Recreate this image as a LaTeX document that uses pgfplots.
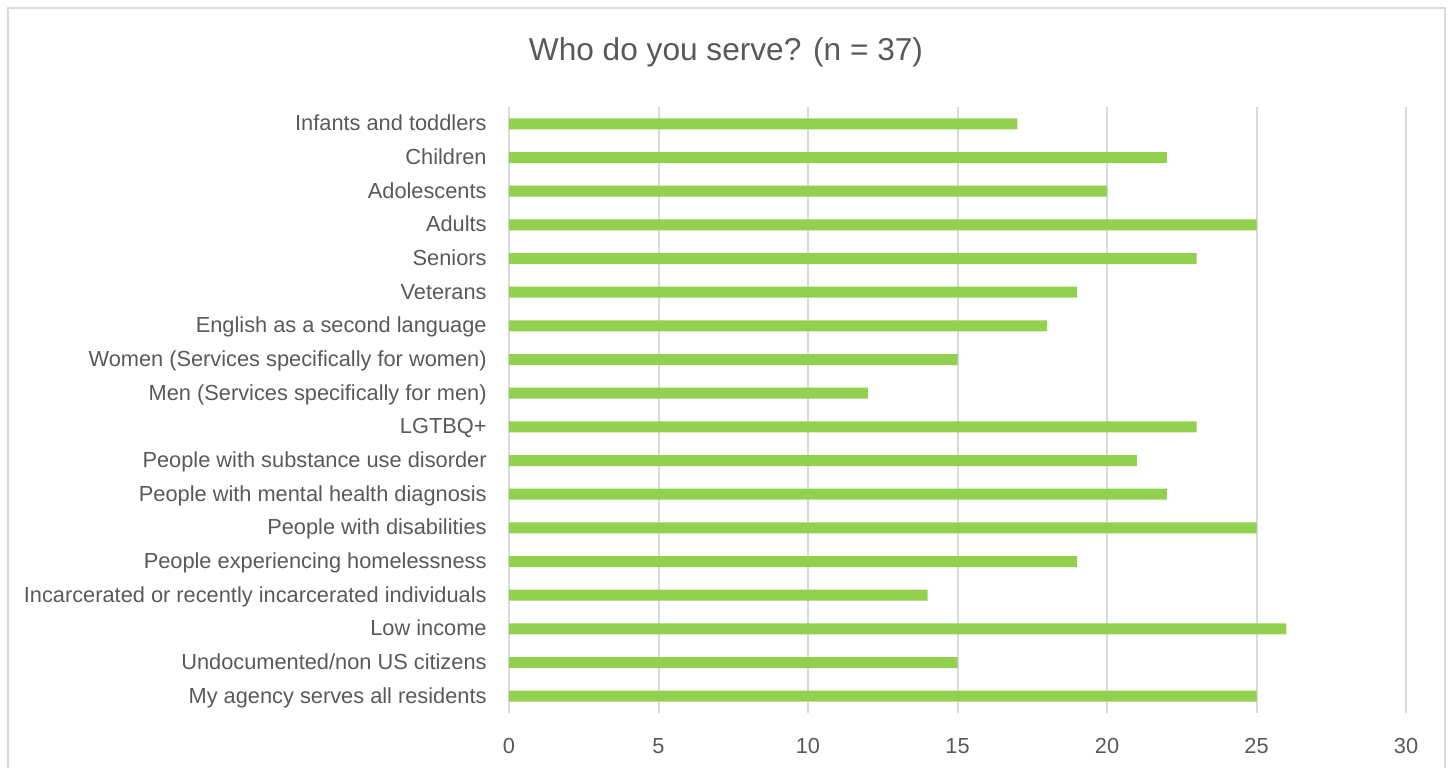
\documentclass[border=0pt]{standalone}
\usepackage{fontspec}
\setmainfont{Liberation Sans}
\usepackage{pgfplots}
\pgfplotsset{compat=1.18}
\definecolor{bargreen}{HTML}{92D050}
\definecolor{txt}{HTML}{595959}
\definecolor{gridc}{HTML}{D9D9D9}
\begin{document}
\begin{tikzpicture}
\path[use as bounding box] (0,0) rectangle (14.5cm,7.67cm);
\draw[gridc, line width=0.25mm] (0.08cm,-0.2cm) -- (0.08cm,7.59cm) -- (14.45cm,7.59cm) -- (14.45cm,-0.2cm);
\node[txt, font=\fontsize{9}{11}\selectfont] at (7.26cm,7.15cm) {Who do you serve? (n = 37)};
\begin{axis}[
  at={(5.09cm,0.54cm)}, anchor=south west,
  scale only axis, width=8.97cm, height=6.06cm,
  xbar, bar width=0.11cm,
  xmin=0, xmax=30, ymin=-0.5, ymax=17.5, y dir=reverse,
  axis line style={draw=none},
  xmajorgrids, grid style={gridc, line width=0.2mm},
  major tick length=0,
  xtick={0,5,...,30},
  ytick={0,...,17},
  yticklabels={Infants and toddlers, Children, Adolescents, Adults, Seniors, Veterans, English as a second language, Women (Services specifically for women), Men (Services specifically for men), LGTBQ+, People with substance use disorder, People with mental health diagnosis, People with disabilities, People experiencing homelessness, Incarcerated or recently incarcerated individuals, Low income, Undocumented/non US citizens, My agency serves all residents},
  tick label style={txt, font=\fontsize{6.2}{7.4}\selectfont},
  /pgf/number format/assume math mode=true,
  xticklabel style={yshift=-1.3mm},
  yticklabel style={xshift=-1.0mm, yshift=0.25mm, text height=0.75em, text depth=0.22em},
]
\addplot[fill=bargreen, draw=none] coordinates {
(17,0) (22,1) (20,2) (25,3) (23,4) (19,5) (18,6) (15,7) (12,8) (23,9) (21,10) (22,11) (25,12) (19,13) (14,14) (26,15) (15,16) (25,17)
};
\end{axis}
\end{tikzpicture}
\end{document}
